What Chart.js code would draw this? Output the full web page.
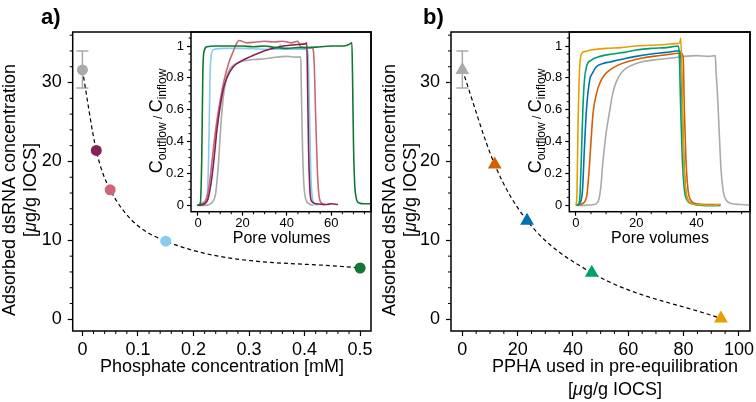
<!DOCTYPE html>
<html>
<head>
<meta charset="utf-8">
<script src="https://cdn.jsdelivr.net/npm/chart.js@4.4.1/dist/chart.umd.min.js"></script>
<style>
  html, body { margin: 0; background: #fff; overflow: hidden; }
  #wrap { position: relative; width: 756px; height: 402px; overflow: hidden; }
  .panel { position: absolute; top: 0; height: 402px; overflow: hidden; }
  #panelA { left: 0; width: 380px; }
  #panelB { left: 380px; width: 376px; }
  canvas { position: absolute; left: 0; top: 0; }
</style>
</head>
<body>
<div id="wrap">
  <div class="panel" id="panelA">
    <canvas id="mainA" width="380" height="402"></canvas>
    <canvas id="insetA" width="380" height="402"></canvas>
  </div>
  <div class="panel" id="panelB">
    <canvas id="mainB" width="420" height="402"></canvas>
    <canvas id="insetB" width="420" height="402"></canvas>
  </div>
</div>
<script>
const FONT = '"Liberation Sans", Arial, Helvetica, sans-serif';

// panel a: phosphate in inflow
const phosphate = [0, 0.025, 0.05, 0.15, 0.5];
const adsorbedA = [31.6, 21.4, 16.4, 9.9, 6.5];
const colorsA = ['#aaaaaa', '#882255', '#cc6677', '#88ccee', '#117733'];

// panel b: PPHA pre-equilibration
const ppha = [0, 11.7, 23.4, 46.8, 93.5];
const adsorbedB = [31.6, 19.6, 12.5, 5.9, 0.1];
const colorsB = ['#aaaaaa', '#d55e00', '#0072b2', '#009e73', '#e69f00'];

// error bar on the reference point (both panels)
const refErrLow = 29.3;
const refErrHigh = 34.0;

// tick labels
const yTicksMain = [0, 10, 20, 30];
const xTicksA = [0, 0.1, 0.2, 0.3, 0.4, 0.5];
const xTicksB = [0, 20, 40, 60, 80, 100];
const yTicksInset = [0, 0.2, 0.4, 0.6, 0.8, 1];
const xTicksInsetA = [0, 20, 40, 60];
const xTicksInsetB = [0, 20, 40];

// breakthrough curves, [pore volumes, Coutflow/Cinflow]
const btA_gray = [[0,0],[3,0],[5,0.005],[6.5,0.02],[8,0.08],[9.2,0.26],[10.3,0.5],[11.4,0.68],[12.5,0.78],[13.7,0.84],[16,0.88],[19,0.9],[25,0.915],[30,0.92],[35,0.93],[40,0.935],[44,0.93],[46.3,0.93],[46.5,0.75],[47,0.4],[47.6,0.15],[48.5,0.04],[50,0.01],[52,0]];
const btA_wine = [[0,0],[3,0.01],[4.5,0.04],[6,0.15],[7.5,0.33],[8.5,0.47],[10,0.62],[11.4,0.73],[13,0.8],[15.9,0.87],[20,0.91],[26.4,0.95],[30,0.97],[35,0.99],[38.4,1.0],[45,1.01],[48.5,1.015],[49,1.02],[49.4,0.7],[49.8,0.35],[50.3,0.12],[51,0.03],[53,0.01],[58,0.005],[60,0.01],[63,0.005]];
const btA_rose = [[0,0],[2,0.01],[3.5,0.03],[5,0.12],[6.5,0.3],[8,0.48],[10,0.66],[12,0.8],[14,0.9],[16,0.97],[17.5,1.02],[18.5,1.035],[22,1.02],[26,1.025],[30,1.03],[34,1.025],[38,1.03],[42,1.02],[45,1.03],[46,1.0],[48,0.99],[50,0.99],[51.5,0.99],[52.3,0.9],[53,0.55],[53.8,0.2],[54.6,0.05],[56,0.01],[57,0]];
const btA_cyan = [[0,0],[2.5,0.02],[4,0.05],[4.8,0.3],[5.4,0.8],[6.2,0.96],[7.5,0.98],[12,0.985],[20,0.985],[30,0.98],[36.5,0.98],[37,1.01],[37.3,0.98],[40,0.98],[45,0.98],[48,0.98],[49.5,0.96],[50.2,0.6],[50.8,0.2],[51.5,0.05],[52.5,0.01],[54,0]];
const btA_green = [[-0.5,0],[1,0.01],[1.7,0.3],[2.2,0.85],[2.8,0.97],[4,0.995],[8,1.0],[15,1.0],[20,1.0],[25,0.995],[30,1.0],[35,0.99],[40,0.985],[45,0.99],[50,0.99],[55,0.995],[60,1.0],[65,1.0],[68,1.01],[69.3,1.02],[69.6,0.8],[70,0.4],[70.5,0.15],[71.2,0.05],[72.5,0.015],[75,0.01],[78,0.01]];

const btB_gray = [[0,0],[3,0],[6,0.005],[7.5,0.03],[8.3,0.12],[8.9,0.26],[10,0.45],[11.1,0.58],[12.2,0.7],[13.3,0.77],[15,0.83],[16.6,0.86],[20,0.89],[23,0.905],[27,0.915],[32,0.925],[36,0.935],[40,0.94],[44,0.935],[46.3,0.94],[46.5,0.85],[47,0.7],[47.6,0.45],[48.2,0.22],[49,0.08],[50,0.03],[52,0.01],[55,0.005],[58,0]];
const btB_red = [[0,0],[2,0.01],[3.5,0.05],[4.3,0.2],[5,0.4],[5.7,0.58],[6.8,0.7],[8,0.77],[9.5,0.82],[11.3,0.85],[14,0.88],[16.8,0.9],[22,0.925],[28,0.94],[35,0.955],[35.6,0.93],[36,0.6],[36.5,0.3],[37.2,0.1],[38.2,0.03],[40,0.01],[44,0.005],[48,0.005]];
const btB_blue = [[0,0],[1.5,0.02],[2.2,0.1],[2.8,0.35],[3.5,0.6],[4.6,0.79],[5.5,0.83],[6.8,0.87],[9,0.89],[11.3,0.9],[16,0.92],[20,0.935],[25,0.95],[30,0.96],[34.5,0.97],[34.9,0.9],[35.3,0.6],[35.8,0.3],[36.4,0.1],[37.3,0.03],[39,0.01],[43,0],[48,0]];
const btB_green = [[0,0],[1,0.01],[1.3,0.05],[1.8,0.3],[2.3,0.6],[2.8,0.78],[3.5,0.87],[5,0.91],[8,0.935],[12,0.95],[16,0.96],[20,0.975],[25,0.985],[30,0.99],[34,1.0],[34.3,0.95],[34.8,0.6],[35.3,0.3],[36,0.1],[37,0.03],[38.5,0.01],[42,0],[47,0]];
const btB_orange = [[0,0],[0.3,0.05],[0.7,0.5],[1.2,0.85],[2,0.955],[3,0.965],[5,0.975],[10,0.985],[15,0.99],[20,1.0],[25,1.005],[30,1.01],[33,1.015],[34.5,1.02],[34.8,1.05],[35.1,0.9],[35.5,0.5],[36,0.2],[36.8,0.06],[38,0.015],[40,0.005],[45,0],[48,0.005]];

function pts(xs, ys) {
  return xs.map((x, i) => ({ x: x, y: ys[i] }));
}
function curve(arr) {
  return arr.map(p => ({ x: p[0], y: p[1] }));
}

// draws a line of text made of runs with their own fonts (subscripts, italics)
function drawRich(ctx, t) {
  ctx.save();
  ctx.fillStyle = '#000';
  ctx.textBaseline = 'alphabetic';
  ctx.textAlign = 'left';
  let w = 0;
  t.runs.forEach(r => { ctx.font = r.font; r.w = ctx.measureText(r.text).width; w += r.w; });
  ctx.translate(t.x, t.y);
  if (t.rotate) ctx.rotate(-Math.PI / 2);
  let x = t.align === 'left' ? 0 : -w / 2;
  t.runs.forEach(r => {
    ctx.font = r.font;
    ctx.fillText(r.text, x, r.dy || 0);
    x += r.w;
  });
  ctx.restore();
}

function minorValues(scale, step, major) {
  const out = [];
  let v = Math.ceil(scale.min / step - 1e-9) * step;
  for (; v <= scale.max + 1e-9; v += step) {
    const r = v / major;
    if (Math.abs(r - Math.round(r)) > 1e-6) out.push(v);
  }
  return out;
}

function deco(cfg) {
  return {
    id: 'deco',
    beforeDatasetsDraw(chart) {
      if (!cfg.errorBar) return;
      const ctx = chart.ctx;
      const x = chart.scales.x.getPixelForValue(cfg.errorBar.x);
      const y1 = chart.scales.y.getPixelForValue(cfg.errorBar.low);
      const y2 = chart.scales.y.getPixelForValue(cfg.errorBar.high);
      ctx.save();
      ctx.strokeStyle = '#aaaaaa';
      ctx.lineWidth = 1.5;
      ctx.beginPath();
      ctx.moveTo(x, y1); ctx.lineTo(x, y2);
      ctx.moveTo(x - 6, y1); ctx.lineTo(x + 6, y1);
      ctx.moveTo(x - 6, y2); ctx.lineTo(x + 6, y2);
      ctx.stroke();
      ctx.restore();
    },
    afterDraw(chart) {
      const ctx = chart.ctx;
      const a = chart.chartArea;
      const xs = chart.scales.x, ys = chart.scales.y;
      ctx.save();
      ctx.strokeStyle = '#000';
      ctx.lineWidth = 1;
      ctx.beginPath();
      minorValues(xs, cfg.minorX, cfg.majorX).forEach(v => {
        const p = xs.getPixelForValue(v);
        ctx.moveTo(p, a.bottom); ctx.lineTo(p, a.bottom + cfg.minorLen);
      });
      minorValues(ys, cfg.minorY, cfg.majorY).forEach(v => {
        const p = ys.getPixelForValue(v);
        ctx.moveTo(a.left, p); ctx.lineTo(a.left - cfg.minorLen, p);
      });
      ctx.stroke();
      ctx.lineWidth = 1.5;
      ctx.strokeRect(a.left, a.top, a.right - a.left, a.bottom - a.top);
      ctx.restore();
      (cfg.titles || []).forEach(t => drawRich(ctx, t));
    }
  };
}

function axis(pos, min, max, ticks, size, tickLen, pad, fit) {
  return {
    type: 'linear',
    position: pos,
    min: min,
    max: max,
    afterBuildTicks: s => { s.ticks = ticks.map(v => ({ value: v })); },
    afterFit: s => { if (pos === 'left') s.width = fit; else s.height = fit; },
    ticks: {
      font: { family: FONT, size: size },
      color: '#000',
      padding: pad,
      autoSkip: false,
      maxRotation: 0,
      callback: v => String(v)
    },
    grid: { drawOnChartArea: false, drawTicks: true, tickLength: tickLen, tickColor: '#000', tickWidth: 1.2 },
    border: { display: false },
    title: { display: false }
  };
}

function baseOptions(padRight, scales) {
  return {
    responsive: false,
    animation: false,
    devicePixelRatio: 1,
    events: [],
    layout: { padding: { left: 0, top: 32, right: padRight, bottom: 0 } },
    plugins: { legend: { display: false }, tooltip: { enabled: false } },
    scales: scales
  };
}

const F18 = '18px ' + FONT;
const F18i = 'italic 18px ' + FONT;
const F12 = '12px ' + FONT;
const F16 = '16px ' + FONT;
const FB = 'bold 22px ' + FONT;

function yTitle(x1, x2) {
  return [
    { x: x1, y: 190, rotate: true, runs: [{ text: 'Adsorbed dsRNA concentration', font: F18 }] },
    { x: x2, y: 190, rotate: true, runs: [{ text: '[', font: F18 }, { text: 'μ', font: F18i }, { text: 'g/g IOCS]', font: F18 }] }
  ];
}
function insetTitles(cx, cy) {
  return [
    { x: cx, y: 243, runs: [{ text: 'Pore volumes', font: F16 }] },
    { x: cy, y: 121, rotate: true, runs: [
      { text: 'C', font: F18 }, { text: 'outflow', font: F12, dy: 4 },
      { text: ' / ', font: F12 },
      { text: 'C', font: F18 }, { text: 'inflow', font: F12, dy: 4 }
    ] }
  ];
}

function lineSet(arr, color) {
  return { data: curve(arr), showLine: true, pointRadius: 0, borderColor: color, borderWidth: 1.6, cubicInterpolationMode: 'monotone' };
}

// panel a canvases are 380 wide (plot right edge at 371);
// panel b canvases start at x=380 and are 420 wide, clipped by their box (plot right edge at 370)

// ---- panel a, main ----
new Chart(document.getElementById('mainA'), {
  type: 'scatter',
  data: {
    datasets: [
      { data: pts(phosphate, adsorbedA), pointRadius: 5.5, pointBackgroundColor: colorsA, pointBorderWidth: 0 },
      { data: pts(phosphate, adsorbedA), showLine: true, pointRadius: 0, borderColor: '#000', borderWidth: 1.2, borderDash: [4, 3], cubicInterpolationMode: 'monotone' }
    ]
  },
  options: baseOptions(9, {
    x: axis('bottom', -0.0175, 0.5196, xTicksA, 18, 5, 3, 71),
    y: axis('left', -1.48, 36.4, yTicksMain, 18, 5, 6, 72.7)
  }),
  plugins: [deco({
    minorX: 0.02, majorX: 0.1, minorY: 2, majorY: 10, minorLen: 3,
    errorBar: { x: 0, low: refErrLow, high: refErrHigh },
    titles: yTitle(15, 36).concat([
      { x: 222, y: 372, runs: [{ text: 'Phosphate concentration [mM]', font: F18 }] },
      { x: 41, y: 24, align: 'left', runs: [{ text: 'a)', font: FB }] }
    ])
  })]
});

// ---- panel a, inset ----
new Chart(document.getElementById('insetA'), {
  type: 'scatter',
  data: {
    datasets: [
      lineSet(btA_green, '#117733'),
      lineSet(btA_wine, '#882255'),
      lineSet(btA_rose, '#cc6677'),
      lineSet(btA_cyan, '#88ccee'),
      lineSet(btA_gray, '#aaaaaa')
    ]
  },
  options: baseOptions(9, {
    x: axis('bottom', -3.15, 77.9, xTicksInsetA, 13, 4, 0, 190.3),
    y: axis('left', -0.04, 1.088, yTicksInset, 13, 4, 3, 191)
  }),
  plugins: [deco({
    minorX: 5, majorX: 20, minorY: 0.05, majorY: 0.2, minorLen: 2.5,
    titles: insetTitles(281.7, 162)
  })]
});

// ---- panel b, main ----
new Chart(document.getElementById('mainB'), {
  type: 'scatter',
  data: {
    datasets: [
      { data: pts(ppha, adsorbedB), pointRadius: 8, pointStyle: 'triangle', pointBackgroundColor: colorsB, pointBorderWidth: 0 },
      { data: pts(ppha, adsorbedB), showLine: true, pointRadius: 0, borderColor: '#000', borderWidth: 1.2, borderDash: [4, 3], cubicInterpolationMode: 'monotone' }
    ]
  },
  options: baseOptions(50, {
    x: axis('bottom', -4.1, 104.0, xTicksB, 18, 5, 3, 71),
    y: axis('left', -1.48, 36.4, yTicksMain, 18, 5, 6, 71)
  }),
  plugins: [deco({
    minorX: 5, majorX: 20, minorY: 2, majorY: 10, minorLen: 3,
    errorBar: { x: 0, low: refErrLow, high: refErrHigh },
    titles: yTitle(15, 36).concat([
      { x: 235, y: 372, runs: [{ text: 'PPHA used in pre-equilibration', font: F18 }] },
      { x: 235, y: 395, runs: [{ text: '[', font: F18 }, { text: 'μ', font: F18i }, { text: 'g/g IOCS]', font: F18 }] },
      { x: 43, y: 24, align: 'left', runs: [{ text: 'b)', font: FB }] }
    ])
  })]
});

// ---- panel b, inset ----
new Chart(document.getElementById('insetB'), {
  type: 'scatter',
  data: {
    datasets: [
      lineSet(btB_orange, '#e69f00'),
      lineSet(btB_green, '#009e73'),
      lineSet(btB_blue, '#0072b2'),
      lineSet(btB_red, '#d55e00'),
      lineSet(btB_gray, '#aaaaaa')
    ]
  },
  options: baseOptions(50, {
    x: axis('bottom', -2.2, 57.8, xTicksInsetB, 13, 4, 0, 190.3),
    y: axis('left', -0.04, 1.088, yTicksInset, 13, 4, 3, 189.3)
  }),
  plugins: [deco({
    minorX: 5, majorX: 20, minorY: 0.05, majorY: 0.2, minorLen: 2.5,
    titles: insetTitles(280, 161)
  })]
});
</script>
</body>
</html>
